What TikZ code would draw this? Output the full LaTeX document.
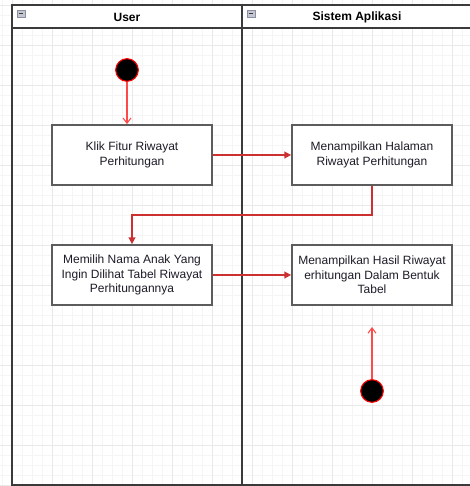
\documentclass[tikz,border=0pt]{standalone}
\usepackage{fontspec}
\setmainfont{Liberation Sans}
\usetikzlibrary{arrows.meta}

\definecolor{gridminor}{HTML}{F5F5F5}
\definecolor{gridmajor}{HTML}{E9E9E9}
\definecolor{laneline}{HTML}{3A3A3A}
\definecolor{boxline}{HTML}{5C5C5C}
\definecolor{flow}{HTML}{CC3030}
\definecolor{startflow}{HTML}{FF4A4A}
\definecolor{iconfill}{HTML}{C4C6D2}
\definecolor{iconline}{HTML}{8C8FA0}
\definecolor{textcol}{HTML}{1C1C28}

\tikzset{
  actbox/.style={draw=boxline, line width=1.3pt, fill=white, rectangle,
    minimum width=120pt, minimum height=45pt, inner sep=2pt,
    align=center, font=\fontsize{9pt}{10.9pt}\selectfont, text=textcol},
  startdot/.style={circle, draw=red, line width=0.8pt, fill=black,
    minimum size=17pt, inner sep=0pt},
  flowline/.style={draw=flow, line width=1.1pt, -{Triangle[length=5pt,width=5pt]}},
  startline/.style={draw=startflow, line width=0.8pt, -{Straight Barb[length=4pt,width=6pt]}},
  lanehead/.style={font=\bfseries\fontsize{9pt}{11pt}\selectfont, text=black},
  laneframe/.style={draw=laneline, line width=1.4pt},
}

\begin{document}
\begin{tikzpicture}[x=0.75pt, y=-0.75pt]
\useasboundingbox (0,0) rectangle (470,486);
\begin{scope}
\clip (0,0) rectangle (470,486);
\fill[white] (0,0) rectangle (470,486);
% background grid
\foreach \gx in {2,12,...,462} \draw[gridminor, line width=0.6pt] (\gx,0) -- (\gx,486);
\foreach \gy in {5,15,...,485} \draw[gridminor, line width=0.6pt] (0,\gy) -- (470,\gy);
\foreach \gx in {12,52,...,452} \draw[gridmajor, line width=0.7pt] (\gx,0) -- (\gx,486);
\foreach \gy in {5,45,...,485} \draw[gridmajor, line width=0.7pt] (0,\gy) -- (470,\gy);

% swimlane frame
\fill[white] (12,5) rectangle (474,28);
\draw[laneframe] (12,5) rectangle (474,485);
\draw[laneframe] (12,28) -- (474,28);
\draw[laneframe] (242,5) -- (242,485);

% collapse icons
\foreach \ix in {17,247} {
  \draw[iconline, fill=iconfill, line width=0.5pt] (\ix,10) rectangle (\ix+8,17);
  \draw[laneline, line width=1pt] (\ix+1.8,13.5) -- (\ix+6.2,13.5);
}
\end{scope}

% lane titles
\node[lanehead] (laneuser) at (127,17) {User};
\node[lanehead] (lanesys) at (357,17) {Sistem Aplikasi};

% activities
\node[actbox] (klik) at (132,155) {Klik Fitur Riwayat\\Perhitungan};
\node[actbox] (halaman) at (372,155) {Menampilkan Halaman\\Riwayat Perhitungan};
\node[actbox] (pilih) at (132,275) {Memilih Nama Anak Yang\\Ingin Dilihat Tabel Riwayat\\Perhitungannya};
\node[actbox] (hasil) at (372,275) {Menampilkan Hasil Riwayat\\erhitungan Dalam Bentuk\\Tabel};

% start points
\node[startdot] (mulai) at (127,70) {};
\node[startdot] (mulaisys) at (372,391) {};
\coordinate (ujung) at (372,327);
\coordinate (belok) at (372,215);

% connectors
\draw[startline] (mulai) -- (mulai |- klik.north);
\draw[startline] (mulaisys) -- (ujung);
\draw[flowline] (klik.east) -- (halaman.west);
\draw[flowline] (halaman.south) -- (belok) -- (belok -| pilih.north) -- (pilih.north);
\draw[flowline] (pilih.east) -- (hasil.west);
\end{tikzpicture}
\end{document}
